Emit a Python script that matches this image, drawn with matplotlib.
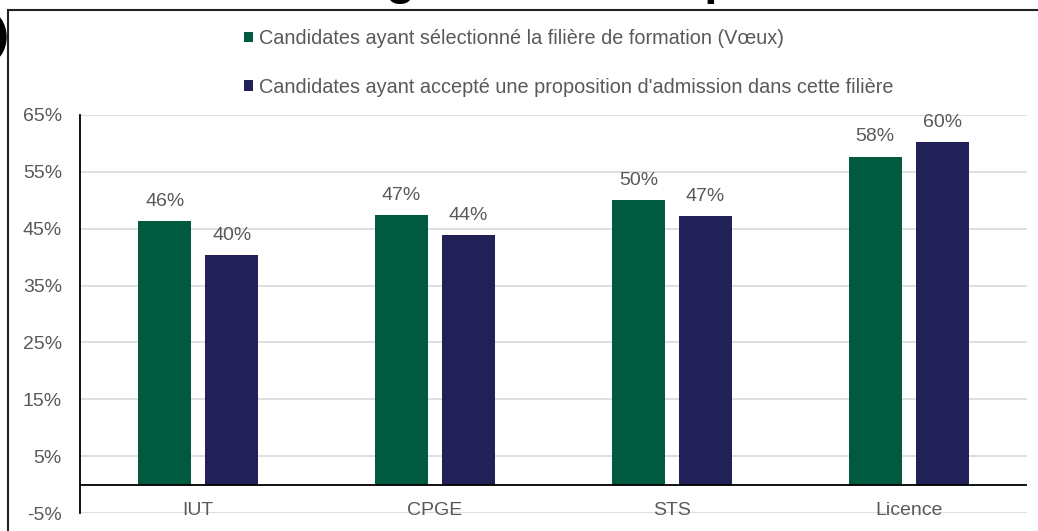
import numpy as np
import matplotlib.pyplot as plt
from matplotlib.patches import Ellipse, Rectangle

plt.rcParams['font.family'] = ['Liberation Sans', 'DejaVu Sans']

categories = ["IUT", "CPGE", "STS", "Licence"]
voeux = [46.4, 47.4, 50.1, 57.7]
acceptes = [40.4, 43.9, 47.3, 60.3]
labels_voeux = ["46%", "47%", "50%", "58%"]
labels_acceptes = ["40%", "44%", "47%", "60%"]
series_names = ["Candidates ayant sélectionné la filière de formation (Vœux)",
                "Candidates ayant accepté une proposition d'admission dans cette filière"]
yticks = [-5, 5, 15, 25, 35, 45, 55, 65]
title = "Une large montée en puissance"

GREEN = "#005A40"
NAVY = "#212057"
GREY = "#595959"

fig = plt.figure(figsize=(10.38, 5.31), dpi=100)
ax = fig.add_axes([80 / 1038, 18 / 531, 947 / 1038, 398 / 531])

x = np.arange(len(categories))
w = 0.224
off = 0.1415
b1 = ax.bar(x - off, voeux, w, color=GREEN, zorder=3, label=series_names[0])
b2 = ax.bar(x + off, acceptes, w, color=NAVY, zorder=3, label=series_names[1])

for bars, labs in ((b1, labels_voeux), (b2, labels_acceptes)):
    for rect, lab in zip(bars, labs):
        ax.annotate(lab, (rect.get_x() + rect.get_width() / 2, rect.get_height()),
                    xytext=(0, 8), textcoords="offset points", ha="center",
                    va="bottom", fontsize=14, color=GREY)

ax.set_xlim(-0.5, 3.5)
ax.set_ylim(-5, 65)
ax.set_yticks(yticks)
ax.set_yticklabels([f"{t}%" for t in yticks], fontsize=14, color=GREY)
ax.tick_params(axis="y", length=0, pad=13)
ax.set_xticks([])
for t in yticks:
    ax.axhline(t, color="#D9D9D9", lw=1.2, zorder=1)
ax.axhline(0, color="black", lw=1.3, zorder=4)
for s in ("top", "right", "bottom"):
    ax.spines[s].set_visible(False)
ax.spines["left"].set_color("black")
ax.spines["left"].set_linewidth(1.3)

for xi, c in zip(x, categories):
    ax.text(xi, -4.5, c, ha="center", va="center", fontsize=14, color=GREY)

fig.legend(handles=[b1, b2], loc="upper left", bbox_to_anchor=(234 / 1038, 1 - 19 / 531),
           frameon=False, fontsize=14.3, labelcolor=GREY, handlelength=0.45,
           handleheight=0.45, handletextpad=0.3, labelspacing=1.5, borderpad=0)

# frame around the chart, cut by the picture edges
fig.add_artist(Rectangle((8 / 1038, -0.1), 1.2, 1 - 10 / 531 + 0.1,
                         transform=fig.transFigure, fill=False, ec="#222222", lw=1.5))
fig.add_artist(Ellipse((-14 / 1038, 1 - 37 / 531), 40 / 1038, 52 / 531,
                       transform=fig.transFigure, color="black"))
# title mostly above the picture, only the descenders show
fig.text(226 / 1038, 1 + 6 / 531, title, ha="left", va="baseline", fontsize=34,
         fontweight="bold", color="black")

fig.savefig("out.png", dpi=100)
